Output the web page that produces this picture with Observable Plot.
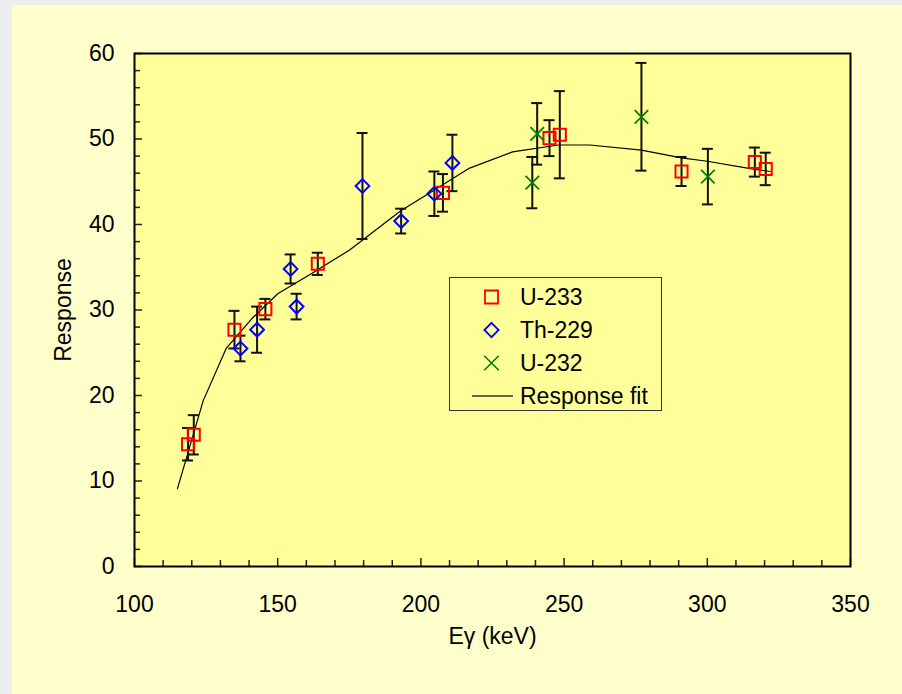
<!DOCTYPE html>
<html><head><meta charset="utf-8">
<script src="https://cdn.jsdelivr.net/npm/d3@7"></script>
<script src="https://cdn.jsdelivr.net/npm/@observablehq/plot@0.6"></script>
<style>
html,body{margin:0;padding:0;background:#eeeeee;width:902px;height:694px;overflow:hidden;font-family:"Liberation Sans",Arial,sans-serif;}
#panel{position:absolute;left:12px;top:5px;width:890px;height:689px;background:#ffffcc;}
#chart{position:absolute;left:0;top:0;}
#legend{position:absolute;left:437px;top:272px;width:213px;height:134px;border:1.5px solid #333;background:#ffff99;box-sizing:border-box;}
.row{position:absolute;left:0;height:30px;width:100%;}
.row svg{position:absolute;left:22px;top:0;}
.row span{position:absolute;left:70px;top:0;line-height:30px;font-size:23px;color:#000;white-space:nowrap;}
</style>
</head><body>
<div id="panel"><div id="chart"></div><div id="legend"></div></div>
<script>
// U-233
const u233X = [118.7, 120.7, 134.9, 145.7, 164.0, 207.7, 244.9, 248.5, 291.0, 316.6, 320.4];
const u233Y = [14.3, 15.4, 27.7, 30.1, 35.4, 43.7, 50.1, 50.5, 46.2, 47.3, 46.5];
const u233E = [1.9, 2.3, 2.2, 1.2, 1.3, 2.2, 2.1, 5.1, 1.7, 1.7, 1.9];
// Th-229
const th229X = [137.0, 142.8, 154.5, 156.6, 179.6, 193.1, 204.7, 211.0];
const th229Y = [25.5, 27.7, 34.8, 30.4, 44.5, 40.4, 43.6, 47.2];
const th229E = [1.5, 2.7, 1.7, 1.5, 6.2, 1.45, 2.6, 3.3];
// U-232
const u232X = [238.9, 240.6, 277.0, 300.2];
const u232Y = [44.9, 50.6, 52.6, 45.6];
const u232E = [3.0, 3.6, 6.3, 3.25];
// Response fit
const fitX = [115, 124, 132, 141, 150, 162, 175, 193, 205, 217, 232, 248, 259, 277, 291, 300, 314, 322];
const fitY = [9.1, 19.4, 25.5, 29.0, 31.9, 34.3, 37.0, 41.6, 44.1, 46.6, 48.5, 49.3, 49.3, 48.7, 47.8, 47.4, 46.6, 46.2];
// ticks
const xMajor = [100, 150, 200, 250, 300, 350];
const xMinor = d3.range(110, 350, 10).filter(v => v % 50 !== 0);
const yMajor = [0, 10, 20, 30, 40, 50, 60];
const yMinor = d3.range(2, 60, 2).filter(v => v % 10 !== 0);
const seriesNames = ["U-233", "Th-229", "U-232", "Response fit"];

const rows = (xs, ys, es) => xs.map((x, i) => ({x, y: ys[i], lo: ys[i] - es[i], hi: ys[i] + es[i]}));
const u233 = rows(u233X, u233Y, u233E);
const th229 = rows(th229X, th229Y, th229E);
const u232 = rows(u232X, u232Y, u232E);
const all = [...u233, ...th229, ...u232];
const fit = fitX.map((x, i) => ({x, y: fitY[i]}));

const chart = Plot.plot({
  width: 890, height: 689,
  marginLeft: 122, marginRight: 52, marginTop: 48, marginBottom: 128,
  style: {background: "transparent", fontFamily: "Liberation Sans, Arial, sans-serif", fontSize: "23px", color: "black", overflow: "visible"},
  x: {domain: [100, 350]},
  y: {domain: [0, 60]},
  marks: [
    Plot.frame({fill: "#ffff99", stroke: "none"}),
    Plot.axisX(xMajor, {tickSize: 0, tickPadding: 29, label: null, tickFormat: d => String(d)}),
    Plot.axisX(xMinor, {tickSize: 6, dy: -6, fill: "none", label: null, stroke: "#222", strokeWidth: 1.5}),
    Plot.axisX(xMajor, {tickSize: 8, dy: -8, fill: "none", label: null, stroke: "#222", strokeWidth: 1.5}),
    Plot.axisY(yMajor, {tickSize: 0, tickPadding: 20, label: null, tickFormat: d => String(d)}),
    Plot.axisY(yMinor, {tickSize: 6, dx: 6, fill: "none", label: null, stroke: "#222", strokeWidth: 1.5}),
    Plot.axisY(yMajor, {tickSize: 8, dx: 8, fill: "none", label: null, stroke: "#222", strokeWidth: 1.5}),
    Plot.line(fit, {x: "x", y: "y", stroke: "black", strokeWidth: 1.2}),
    Plot.ruleX(all, {x: "x", y1: "lo", y2: "hi", stroke: "#111", strokeWidth: 2}),
    Plot.ruleY(all, {y: "lo", x1: "x", x2: "x", insetLeft: -5.5, insetRight: -5.5, stroke: "#111", strokeWidth: 2}),
    Plot.ruleY(all, {y: "hi", x1: "x", x2: "x", insetLeft: -5.5, insetRight: -5.5, stroke: "#111", strokeWidth: 2}),
    Plot.dot(u233, {x: "x", y: "y", symbol: "square", r: 6.8, stroke: "#ff0000", strokeWidth: 2, fill: "none"}),
    Plot.dot(th229, {x: "x", y: "y", symbol: "diamond2", r: 6.2, stroke: "#0000ff", strokeWidth: 2, fill: "none"}),
    Plot.dot(u232, {x: "x", y: "y", symbol: "times", r: 6.2, stroke: "#008000", strokeWidth: 1.8, fill: "none"}),
    Plot.frame({stroke: "black", strokeWidth: 2, fill: "none"}),
    Plot.text(["Response"], {text: d => d, frameAnchor: "left", textAnchor: "middle", dx: -71, rotate: -90, fontSize: 23, fill: "black"}),
    Plot.text(["Eγ (keV)"], {text: d => d, frameAnchor: "bottom", textAnchor: "middle", dy: 77, fontSize: 23, fill: "black"})
  ]
});
document.getElementById("chart").appendChild(chart);

// legend
const legend = d3.select("#legend");
const legendSpec = [
  {name: seriesNames[0], sym: d3.symbolSquare, size: 170, color: "#ff0000", sw: 1.8},
  {name: seriesNames[1], sym: d3.symbolDiamond2, size: 130, color: "#0000ff", sw: 1.8},
  {name: seriesNames[2], sym: d3.symbolTimes, size: 140, color: "#008000", sw: 1.6},
  {name: seriesNames[3], line: true}
];
const rowCenters = [19, 52, 85, 118];
legendSpec.forEach((s, i) => {
  const row = legend.append("div").attr("class", "row").style("top", (rowCenters[i] - 15) + "px");
  const svg = row.append("svg").attr("width", 44).attr("height", 30);
  if (s.line) {
    svg.append("line").attr("x1", 0).attr("x2", 41).attr("y1", 15).attr("y2", 15)
      .attr("stroke", "#333").attr("stroke-width", 1.4);
  } else {
    svg.append("path").attr("d", d3.symbol(s.sym, s.size)()).attr("transform", "translate(19.5,15)")
      .attr("fill", "none").attr("stroke", s.color).attr("stroke-width", s.sw);
  }
  row.append("span").text(s.name);
});
</script>
</body></html>
